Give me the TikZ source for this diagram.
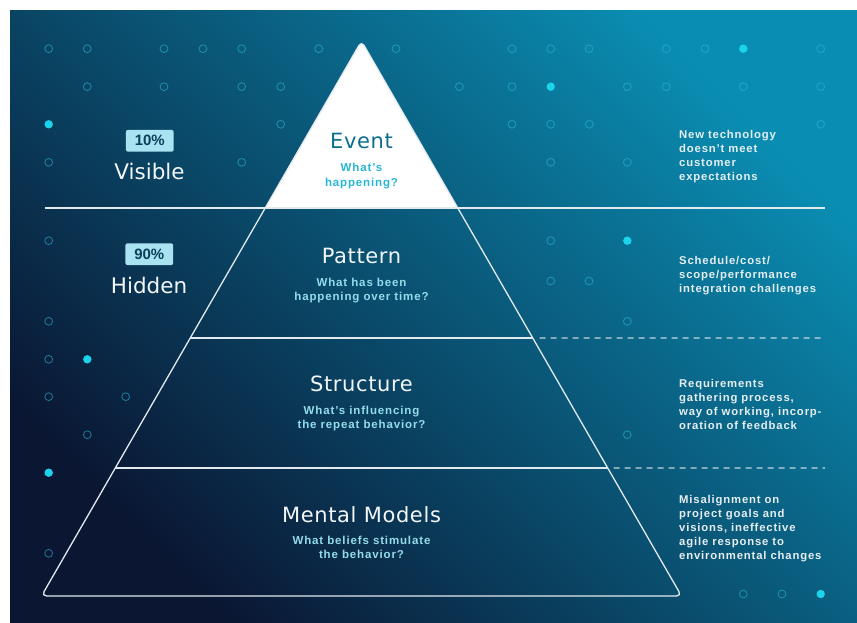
\documentclass[tikz,border=0pt]{standalone}
\usepackage{fontspec}
\usetikzlibrary{calc}
\newfontfamily\ttlfont[LetterSpace=3]{DejaVu Sans}
\newfontfamily\sidefont{DejaVu Sans}
\newfontfamily\bdyfont[LetterSpace=7.5]{Liberation Sans}
\newfontfamily\bdgfont{Liberation Sans}
\definecolor{bgdark}{HTML}{0A1632}
\definecolor{bgmid}{HTML}{0B4E6E}
\definecolor{bglight}{HTML}{0A8DB2}
\definecolor{ringc}{HTML}{2FB8D8}
\definecolor{dotc}{HTML}{1CD3EC}
\definecolor{linec}{HTML}{E2EAEE}
\definecolor{titlec}{HTML}{F2F6F8}
\definecolor{subc}{HTML}{93DCEB}
\definecolor{eventc}{HTML}{0C6F8E}
\definecolor{eventsub}{HTML}{27B6D6}
\definecolor{badgec}{HTML}{A9E3F1}
\definecolor{badget}{HTML}{0A3F5A}
\definecolor{rightc}{HTML}{E6EEF2}
\tikzset{
  ring/.style={draw=ringc, draw opacity=0.55, line width=0.9pt},
  fdot/.style={fill=dotc},
  pyr/.style={draw=linec, line width=1.3pt, line join=round},
  hline/.style={draw=linec, line width=1.3pt},
  dline/.style={draw=linec, draw opacity=0.85, line width=1.3pt, dash pattern=on 6pt off 5pt},
  title/.style={font=\ttlfont\fontsize{21}{24}\selectfont, text=titlec, anchor=base, inner sep=0pt},
  subt/.style={font=\bdyfont\bfseries\fontsize{11.5}{14}\selectfont, text=subc, anchor=base, inner sep=0pt},
  rtext/.style={font=\bdyfont\bfseries\fontsize{11.3}{14}\selectfont, text=rightc, anchor=base west, inner sep=0pt},
  badge/.style={fill=badgec, rounded corners=2pt, minimum width=47.7pt, minimum height=21.7pt, inner sep=0pt,
    font=\bdgfont\bfseries\fontsize{15}{15}\selectfont, text=badget},
  side/.style={font=\sidefont\fontsize{21.5}{24}\selectfont, text=titlec, anchor=base, inner sep=0pt}
}
\begin{document}
\begin{tikzpicture}[x=1pt,y=-1pt]
\useasboundingbox (0,0) rectangle (857,623);
\fill[white] (0,0) rectangle (857,623);
\shade[shading=axis, bottom color=bgdark, middle color=bgmid, top color=bglight, shading angle=-45]
  (10,11) rectangle (857,623);

% dot grid
\foreach \x/\y in {48.7/48.7,87.3/48.7,164/48.7,203/48.7,241.7/48.7,318.7/48.7,396/48.7,512/48.7,550.7/48.7,589/48.7,666.3/48.7,705/48.7,820.7/48.7,
  87.3/86.7,164/86.7,241.7/86.7,280.7/86.7,459.3/86.7,512/86.7,627.3/86.7,666.3/86.7,743.3/86.7,820.7/86.7,
  280.7/124.3,512/124.3,550.7/124.3,589.3/124.3,820.7/124.3,
  48.7/162.3,241.7/162.3,550.7/162.3,627.3/162.3,
  48.7/240.7,550.7/240.7,
  550.7/281,589/281,
  48.7/321.3,627.3/321.3,
  48.7/359.3,
  48.7/396.7,125.7/396.7,
  87.3/434.7,627.3/434.7,
  48.7/553.3,
  743.3/594,782/594}
  \draw[ring] (\x,\y) circle[radius=3.9];
\foreach \x/\y in {743.3/48.7,550.7/86.7,48.7/124.3,627.3/240.7,87.3/359.3,48.7/472.7,820.7/594}
  \fill[fdot] (\x,\y) circle[radius=4.2];

% pyramid geometry
\coordinate (apex) at (361.5,41);
\coordinate (bl) at (41.5,596);
\coordinate (br) at (681.5,596);
\coordinate (l1) at ($(apex)!0.3009!(bl)$);
\coordinate (r1) at ($(apex)!0.3009!(br)$);
\coordinate (l2) at ($(apex)!0.5351!(bl)$);
\coordinate (r2) at ($(apex)!0.5351!(br)$);
\coordinate (l3) at ($(apex)!0.7694!(bl)$);
\coordinate (r3) at ($(apex)!0.7694!(br)$);
\coordinate (h1a) at (45,208);
\coordinate (h1b) at (825,208);
\coordinate (d2a) at ($(r2)+(7,0)$);
\coordinate (d2b) at (825,338);
\coordinate (d3a) at ($(r3)+(6,0)$);
\coordinate (d3b) at (825,468);

\begin{scope}
  \clip (0,0) rectangle (857,208);
  \fill[white, rounded corners=6pt] (apex) -- (br) -- (bl) -- cycle;
\end{scope}
\draw[pyr, rounded corners=5pt] (apex) -- (br) -- (bl) -- cycle;
\draw[hline] (h1a) -- (h1b);
\draw[hline] (l2) -- (r2);
\draw[hline] (l3) -- (r3);
\draw[dline] (d2a) -- (d2b);
\draw[dline] (d3a) -- (d3b);

% left labels
\node[badge] (b10) at (149.8,140.8) {10\%};
\node[side] (visible) at (149.5,179) {Visible};
\node[badge] (b90) at (149.3,254.2) {90\%};
\node[side] (hidden) at (149,293.3) {Hidden};

% pyramid texts
\node[title, text=eventc] (event) at (361.5,148.3) {Event};
\node[subt, text=eventsub] (event1) at (361.5,171.7) {What’s};
\node[subt, text=eventsub] (event2) at (361.5,186) {happening?};

\node[title] (pattern) at (361.5,263.3) {Pattern};
\node[subt] (pattern1) at (361.5,286) {What has been};
\node[subt] (pattern2) at (361.5,300) {happening over time?};

\node[title] (structure) at (361.5,391.7) {Structure};
\node[subt] (structure1) at (361.5,414.3) {What’s influencing};
\node[subt] (structure2) at (361.5,428.7) {the repeat behavior?};

\node[title] (mental) at (361.5,522.3) {Mental Models};
\node[subt] (mental1) at (361.5,544) {What beliefs stimulate};
\node[subt] (mental2) at (361.5,558) {the behavior?};

% right texts
\foreach \t [count=\i] in {New technology,doesn’t meet,customer,expectations}
  \node[rtext] (ra\i) at (679,124.7+14*\i) {\t};
\foreach \t [count=\i] in {Schedule/cost/,scope/performance,integration challenges}
  \node[rtext] (rb\i) at (679,250.3+14*\i) {\t};
\foreach \t [count=\i] in {Requirements,{gathering process,},{way of working, incorp-},oration of feedback}
  \node[rtext] (rc\i) at (679,373.3+14*\i) {\t};
\foreach \t [count=\i] in {Misalignment on,project goals and,{visions, ineffective},agile response to,environmental changes}
  \node[rtext] (rd\i) at (679,489.3+14*\i) {\t};
\end{tikzpicture}
\end{document}
